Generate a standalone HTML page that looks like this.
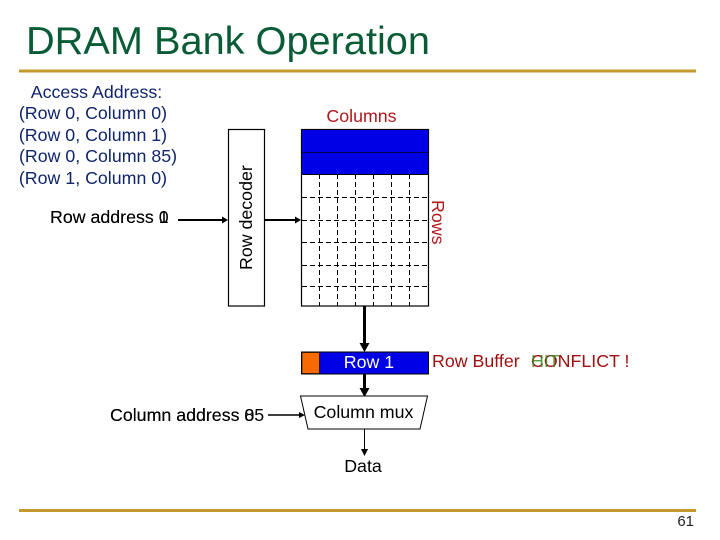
<!DOCTYPE html>
<html><head><meta charset="utf-8"><style>
html,body{margin:0;padding:0;background:#fff}
svg{display:block}
text{font-family:"Liberation Sans",sans-serif;font-size:17.8px;fill:#000}
.a{fill:#10256b}
</style></head><body>
<svg width="720" height="540" viewBox="0 0 720 540" xmlns="http://www.w3.org/2000/svg">
<text x="26" y="54" style="font-size:39px;fill:#0a5c36" textLength="404" lengthAdjust="spacingAndGlyphs">DRAM Bank Operation</text>
<rect x="19" y="69.5" width="677" height="3" fill="#c49a2c"/>
<rect x="19" y="509" width="677" height="3" fill="#c49a2c"/>
<text x="694" y="526" text-anchor="end" style="font-size:15px;fill:#222">61</text>

<text class="a" x="96.5" y="98" text-anchor="middle">Access Address:</text>
<text class="a" x="93" y="119" text-anchor="middle">(Row 0, Column 0)</text>
<text class="a" x="93" y="141" text-anchor="middle">(Row 0, Column 1)</text>
<text class="a" x="98" y="162" text-anchor="middle">(Row 0, Column 85)</text>
<text class="a" x="93" y="184" text-anchor="middle">(Row 1, Column 0)</text>

<text x="50" y="223">Row address 0</text>
<text x="50" y="223">Row address 1</text>
<line x1="178" y1="220" x2="224" y2="220" stroke="#000" stroke-width="2"/>
<polygon points="228,220 222,216.5 222,223.5" fill="#000"/>

<rect x="228.5" y="129.5" width="36" height="176.5" fill="#fff" stroke="#000" stroke-width="1.2"/>
<text transform="translate(252,270) rotate(-90)">Row decoder</text>
<line x1="265" y1="220" x2="296" y2="220" stroke="#000" stroke-width="2"/>
<polygon points="301,220 295,216.5 295,223.5" fill="#000"/>

<text x="361.5" y="122" text-anchor="middle" style="fill:#b0181c">Columns</text>
<text transform="translate(432,200) rotate(90)" style="fill:#b0181c">Rows</text>

<rect x="301.5" y="129.5" width="127" height="176.5" fill="#fff" stroke="#000" stroke-width="1.2"/>
<g stroke="#000" stroke-width="1" stroke-dasharray="5 3">
<line x1="319.5" y1="174" x2="319.5" y2="306"/>
<line x1="337.5" y1="174" x2="337.5" y2="306"/>
<line x1="355.5" y1="174" x2="355.5" y2="306"/>
<line x1="373.5" y1="174" x2="373.5" y2="306"/>
<line x1="391.5" y1="174" x2="391.5" y2="306"/>
<line x1="409.5" y1="174" x2="409.5" y2="306"/>
<line x1="302" y1="197.5" x2="428" y2="197.5"/>
<line x1="302" y1="220.5" x2="428" y2="220.5"/>
<line x1="302" y1="242.5" x2="428" y2="242.5"/>
<line x1="302" y1="265.5" x2="428" y2="265.5"/>
<line x1="302" y1="286.5" x2="428" y2="286.5"/>
</g>
<rect x="301.5" y="129.5" width="127" height="45" fill="#0000e6" stroke="#000" stroke-width="1"/>
<line x1="302" y1="152.5" x2="428" y2="152.5" stroke="#000050" stroke-width="1"/>

<line x1="364.5" y1="306" x2="364.5" y2="345" stroke="#000" stroke-width="3"/>
<polygon points="364.5,352 359.5,343 369.5,343" fill="#000"/>

<rect x="301.5" y="352" width="127" height="22" fill="#0000e6" stroke="#000" stroke-width="1"/>
<rect x="302" y="352.5" width="17.5" height="21" fill="#f66a00" stroke="#000" stroke-width="0.6"/>
<text x="369" y="368" text-anchor="middle" style="fill:#fff">Row 1</text>

<line x1="364.5" y1="374" x2="364.5" y2="390" stroke="#000" stroke-width="3"/>
<polygon points="364.5,397 359.5,388 369.5,388" fill="#000"/>

<polygon points="300.5,396 427.5,396 420,429 308,429" fill="#fff" stroke="#000" stroke-width="1"/>
<text x="363.5" y="418" text-anchor="middle">Column mux</text>

<text x="110" y="421">Column address 0</text>
<text x="110" y="421">Column address 85</text>
<line x1="268" y1="415" x2="300" y2="415" stroke="#000" stroke-width="1.5"/>
<polygon points="305,415 299,412 299,418" fill="#000"/>

<line x1="364.5" y1="429" x2="364.5" y2="450" stroke="#000" stroke-width="1"/>
<polygon points="364.5,456 361,449 368,449" fill="#000"/>
<text x="363" y="472" text-anchor="middle">Data</text>

<text x="432" y="367" style="fill:#a01010">Row Buffer</text>
<text x="531" y="367" style="fill:#a01010">CONFLICT !</text>
<text x="531" y="367" style="fill:#3a8a20" opacity="0.85">HIT</text>
</svg>
</body></html>
